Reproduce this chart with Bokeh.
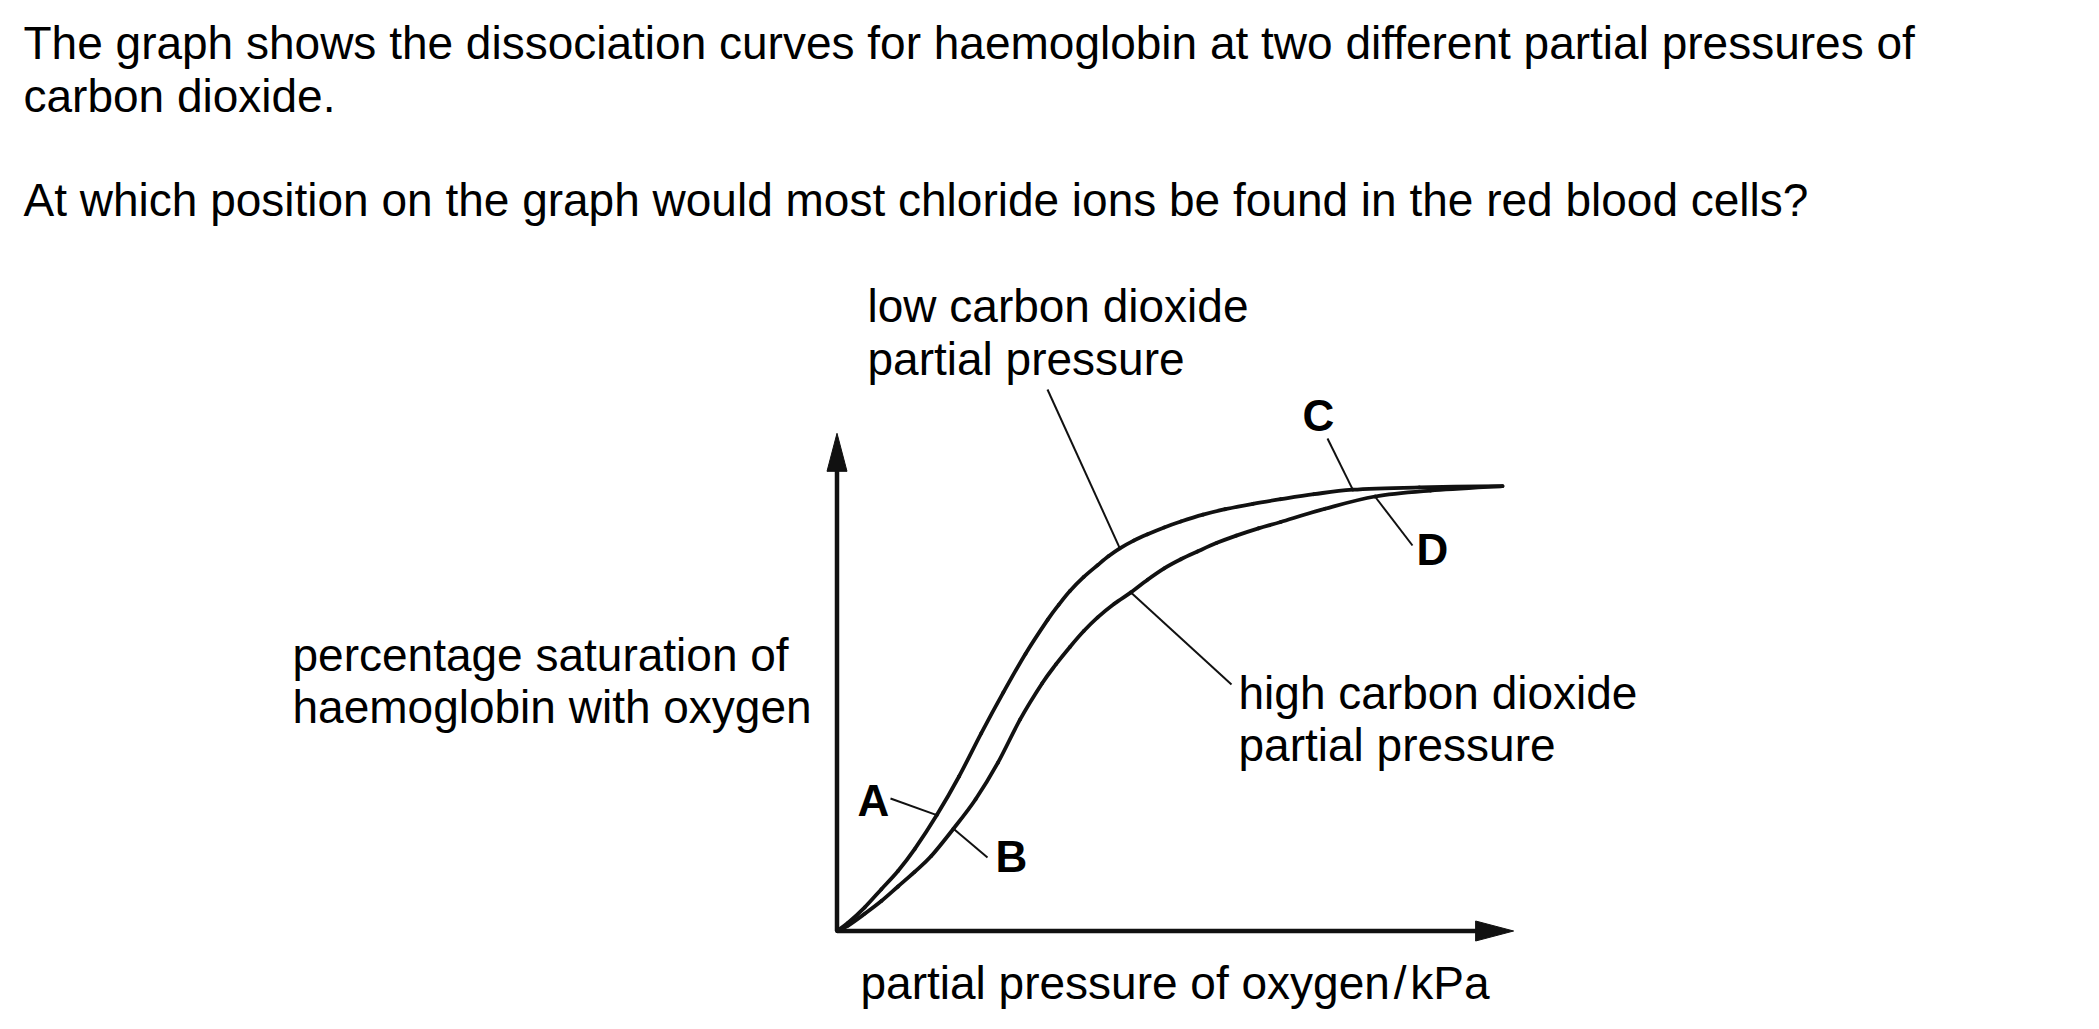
import numpy as np
from bokeh.plotting import figure
from bokeh.models import Range1d, ColumnDataSource
from bokeh.core.properties import value
from bokeh.embed import file_html
from bokeh.resources import INLINE

# ---------------- data ----------------
# low carbon dioxide partial pressure curve (left / upper)
po2_low = [0, 0.2, 0.5, 0.8, 1.1, 1.4, 1.8, 2.2, 2.6, 3.0, 3.4, 3.8, 4.0, 4.2,
           4.45, 4.7, 4.9, 5.1, 5.35, 5.6, 5.9, 6.2, 6.6, 7.0, 7.5, 8.0, 8.6,
           9.3, 10.5, 12.0]
sat_low = [0, 1.8, 5.2, 9.2, 13.2, 18.0, 25.5, 34.0, 43.5, 52.5, 61.0, 68.5,
           71.8, 74.8, 77.9, 80.5, 82.5, 84.2, 85.9, 87.3, 88.8, 90.1, 91.6,
           92.8, 94.0, 95.0, 96.1, 97.1, 97.6, 97.9]
# high carbon dioxide partial pressure curve (right / lower)
po2_high = [0, 0.2, 0.5, 0.8, 1.1, 1.4, 1.7, 2.1, 2.5, 2.9, 3.3, 3.7, 3.95,
            4.2, 4.45, 4.7, 5.0, 5.3, 5.6, 5.9, 6.2, 6.5, 6.85, 7.2, 7.6, 8.0,
            8.8, 9.7, 10.7, 12.0]
sat_high = [0, 1.2, 3.8, 6.6, 9.8, 13.0, 16.5, 22.5, 29.0, 37.0, 46.5, 54.5,
            58.7, 62.5, 66.0, 69.0, 72.0, 74.5, 77.3, 79.8, 81.8, 83.5, 85.4,
            87.0, 88.6, 90.0, 92.9, 95.6, 96.9, 97.9]

x_axis_end = 12.2      # kPa, tip of the x arrow
y_axis_end = 109.5     # %, tip of the y arrow

question_lines = [
    "The graph shows the dissociation curves for haemoglobin at two different partial pressures of",
    "carbon dioxide.",
    "At which position on the graph would most chloride ions be found in the red blood cells?",
]
y_label_lines = ["percentage saturation of", "haemoglobin with oxygen"]
x_label = "partial pressure of oxygen\u200a/\u200akPa"
low_label_lines = ["low carbon dioxide", "partial pressure"]
high_label_lines = ["high carbon dioxide", "partial pressure"]
letters = ["A", "B", "C", "D"]
# which curve / which pO2 point each letter marks
letter_curve = ["low", "high", "low", "high"]
letter_po2 = [1.8, 2.1, 9.3, 9.7]

# ---------------- layout (page pixels) ----------------
W, H = 2099, 1029
ORIGIN = (836.5, 930.5)
PX_PER_KPA = 55.46
PX_PER_PCT = 4.545


def X(px):
    return (px - ORIGIN[0]) / PX_PER_KPA


def Y(py):
    return (ORIGIN[1] - py) / PX_PER_PCT


FONT = value("Liberation Sans")
FS = value("46px")

p = figure(width=W, height=H, x_range=Range1d(X(0), X(W)),
           y_range=Range1d(Y(H), Y(0)), min_border=0,
           toolbar_location=None, output_backend="svg",
           x_axis_type=None, y_axis_type=None)
p.grid.visible = False
p.outline_line_color = None
p.background_fill_color = "white"
p.border_fill_color = "white"

INK = "#111111"


def curve_pt(which, po2):
    if which == "low":
        i = po2_low.index(po2)
        return po2_low[i], sat_low[i]
    i = po2_high.index(po2)
    return po2_high[i], sat_high[i]


# ---- axes with arrow heads ----
head_len_px, head_half_px = 38, 10
p.segment(x0=[0, 0], y0=[0, 0],
          x1=[x_axis_end - head_len_px / PX_PER_KPA * 0.9, 0],
          y1=[0, y_axis_end - head_len_px / PX_PER_PCT * 0.9],
          line_color=INK, line_width=4.5)
hx = head_len_px / PX_PER_KPA
hy = head_len_px / PX_PER_PCT
wx = head_half_px / PX_PER_KPA
wy = head_half_px / PX_PER_PCT
p.patches(
    xs=[[x_axis_end, x_axis_end - hx, x_axis_end - hx],
        [0, -wx, wx]],
    ys=[[0, wy, -wy],
        [y_axis_end, y_axis_end - hy, y_axis_end - hy]],
    fill_color=INK, line_color=INK, line_width=1)


# ---- curves: smooth curves through the read points (Catmull-Rom as Bezier) ----
def smooth_through(xs, ys):
    P = np.column_stack([xs, ys]).astype(float)
    P0 = np.vstack([P[:1], P[:-2]])
    P1 = P[:-1]
    P2 = P[1:]
    P3 = np.vstack([P[2:], P[-1:]])
    C1 = P1 + (P2 - P0) / 6.0
    C2 = P2 - (P3 - P1) / 6.0
    return dict(x0=P1[:, 0], y0=P1[:, 1], x1=P2[:, 0], y1=P2[:, 1],
                cx0=C1[:, 0], cy0=C1[:, 1], cx1=C2[:, 0], cy1=C2[:, 1])


for xs, ys in [(po2_low, sat_low), (po2_high, sat_high)]:
    p.bezier(source=ColumnDataSource(smooth_through(xs, ys)),
             x0="x0", y0="y0", x1="x1", y1="y1", cx0="cx0", cy0="cy0",
             cx1="cx1", cy1="cy1", line_color=INK, line_width=3.8,
             line_cap="round")

# ---- leader lines ----
leader_from_px = {
    "A": (890, 798), "B": (987, 857), "C": (1327, 438), "D": (1412, 545),
}
lx0, ly0, lx1, ly1 = [], [], [], []
for L, c, po in zip(letters, letter_curve, letter_po2):
    fx, fy = leader_from_px[L]
    tx, ty = curve_pt(c, po)
    lx0.append(X(fx)); ly0.append(Y(fy)); lx1.append(tx); ly1.append(ty)
# curve name labels
for (fx, fy), (c, po) in [((1047, 389), ("low", 5.1)), ((1231, 684), ("high", 5.3))]:
    tx, ty = curve_pt(c, po)
    lx0.append(X(fx)); ly0.append(Y(fy)); lx1.append(tx); ly1.append(ty)
p.segment(x0=lx0, y0=ly0, x1=lx1, y1=ly1, line_color=INK, line_width=2)


# ---- texts ----
def add_text(lines, left_px, baselines_px, size=FS, style="normal", align="left"):
    src = ColumnDataSource(dict(x=[X(left_px)] * len(lines),
                                y=[Y(b) for b in baselines_px], t=lines))
    p.text(x="x", y="y", text="t", source=src, text_font=FONT,
           text_font_size=size, text_font_style=style, text_align=align,
           text_baseline="alphabetic", text_color="black")


add_text(question_lines, 23, [42, 95, 199])
add_text(y_label_lines, 292, [654, 706])
add_text([x_label], 860, [982])
add_text(low_label_lines, 867, [305, 358])
add_text(high_label_lines, 1238, [692, 744])

letter_pos_px = {"A": (873, 800), "B": (1011, 856), "C": (1318, 415), "D": (1432, 549)}
src = ColumnDataSource(dict(x=[X(letter_pos_px[L][0]) for L in letters],
                            y=[Y(letter_pos_px[L][1]) for L in letters], t=letters))
p.text(x="x", y="y", text="t", source=src, text_font=FONT, text_font_size=value("44px"),
       text_font_style="bold", text_align="center", text_baseline="alphabetic",
       text_color="black")

open("out.html", "w").write(file_html(p, INLINE))
